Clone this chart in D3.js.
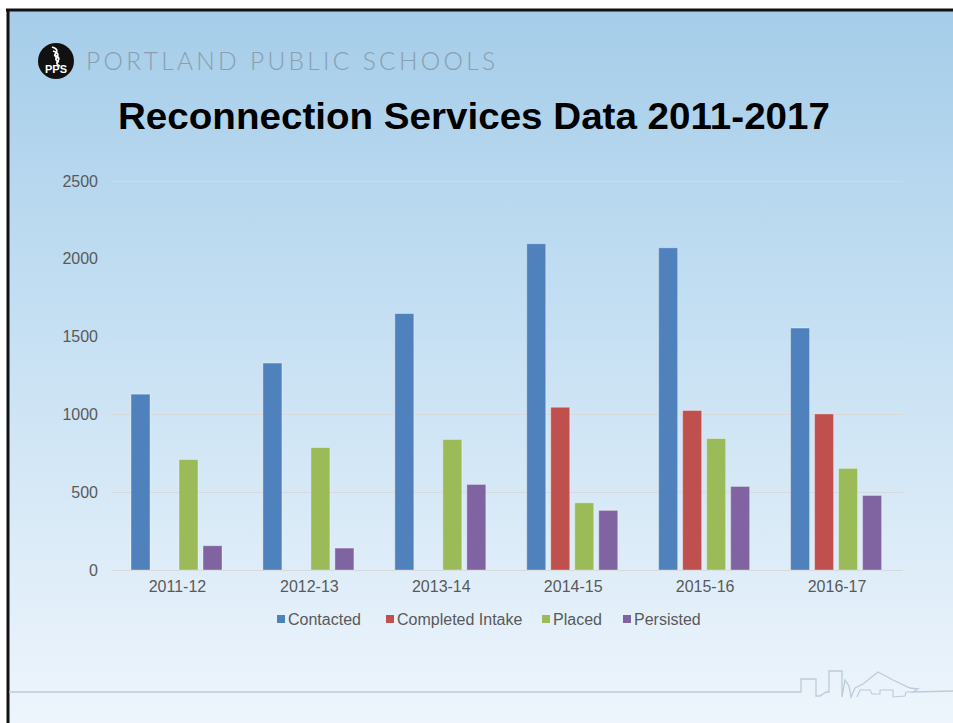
<!DOCTYPE html>
<html>
<head>
<meta charset="utf-8">
<script src="https://cdn.jsdelivr.net/npm/d3@7"></script>
<style>
  html, body { margin: 0; padding: 0; background: #fff; }
  svg { display: block; }
</style>
</head>
<body>
<svg id="chart" width="953" height="723"></svg>
<script>
// ---- data ----
const categories = ["2011-12", "2012-13", "2013-14", "2014-15", "2015-16", "2016-17"];
const seriesNames = ["Contacted", "Completed Intake", "Placed", "Persisted"];
const contacted       = [1130, 1330, 1648, 2097, 2071, 1555];
const completedIntake = [null, null, null, 1046, 1025, 1003];
const placed          = [710, 787, 839, 432, 845, 653];
const persisted       = [156, 141, 550, 383, 537, 479];
const yTicks = [0, 500, 1000, 1500, 2000, 2500];
const seriesColors = ["#4f81bd", "#c0504d", "#9bbb59", "#8064a2"];
const titleText = "Reconnection Services Data 2011-2017";
const brandText = "PORTLAND PUBLIC SCHOOLS";

const seriesValues = [contacted, completedIntake, placed, persisted];

const svg = d3.select("#chart");
const W = 953, H = 723;
const FONT = "Liberation Sans, Arial, sans-serif";

// ---- background ----
const defs = svg.append("defs");
const grad = defs.append("linearGradient").attr("id", "bg").attr("x1", 0).attr("y1", 0).attr("x2", 0).attr("y2", 1);
grad.append("stop").attr("offset", "0%").attr("stop-color", "#a5cde9");
grad.append("stop").attr("offset", "45%").attr("stop-color", "#c6e0f3");
grad.append("stop").attr("offset", "100%").attr("stop-color", "#eef5fc");
svg.append("rect").attr("x", 9).attr("y", 11).attr("width", W - 9).attr("height", H - 11).attr("fill", "url(#bg)");
// frame
svg.append("line").attr("x1", 6).attr("x2", W).attr("y1", 10).attr("y2", 10).attr("stroke", "#111").attr("stroke-width", 3);
svg.append("line").attr("x1", 8).attr("x2", 8).attr("y1", 9).attr("y2", H).attr("stroke", "#111").attr("stroke-width", 3);

// ---- logo ----
const logo = svg.append("g").attr("transform", "translate(56,61)");
logo.append("circle").attr("r", 18).attr("fill", "#111");
[-8, -4, 0].forEach((dy, i) => {
  logo.append("path")
    .attr("d", `M${-4 + i},${dy - 6} q7,2 4,6 q-3,3 2,5`)
    .attr("fill", "none").attr("stroke", "#fff").attr("stroke-width", 1.8);
});
logo.append("text").attr("x", 0).attr("y", 12).attr("text-anchor", "middle")
  .attr("font-family", FONT).attr("font-weight", "bold")
  .attr("font-size", 11).attr("fill", "#fff").text("PPS");

// brand text
svg.append("text").attr("x", 86).attr("y", 69.5)
  .attr("font-family", "Lato, 'Open Sans', sans-serif").attr("font-weight", 300)
  .attr("font-size", 24.5).attr("fill", "#8a9eae")
  .attr("textLength", 409).attr("lengthAdjust", "spacing")
  .text(brandText);

// title
svg.append("text").attr("x", 474).attr("y", 128.5).attr("text-anchor", "middle")
  .attr("font-family", FONT).attr("font-weight", "bold")
  .attr("font-size", 36).attr("fill", "#000")
  .attr("textLength", 712).attr("lengthAdjust", "spacingAndGlyphs")
  .text(titleText);

// ---- chart ----
const plotLeft = 111.5, plotRight = 903, plotTop = 181, plotBottom = 570;
const y = d3.scaleLinear().domain([0, 2500]).range([plotBottom, plotTop]);
const x0 = d3.scaleBand().domain(categories).range([plotLeft, plotRight]).paddingInner(0).paddingOuter(0);
const groupOffset = 19.5;
const x1 = d3.scaleBand().domain(seriesNames).range([groupOffset, groupOffset + 91]).paddingInner(5 / 24).paddingOuter(0);
const color = d3.scaleOrdinal().domain(seriesNames).range(seriesColors);

// gridlines
svg.append("g").selectAll("line").data(yTicks).join("line")
  .attr("x1", plotLeft).attr("x2", plotRight)
  .attr("y1", d => Math.round(y(d)) + 0.5).attr("y2", d => Math.round(y(d)) + 0.5)
  .attr("stroke", "#d5d9dc").attr("stroke-width", 1.2);

// y axis labels
const yAxis = d3.axisLeft(y).tickValues(yTicks).tickSize(0).tickPadding(0).tickFormat(d3.format("d"));
const yg = svg.append("g").attr("transform", `translate(98,0)`).call(yAxis);
yg.select(".domain").remove();
yg.selectAll("text").attr("font-family", FONT).attr("font-size", 16).attr("fill", "#595959");

// x axis labels
const xAxis = d3.axisBottom(x0).tickSize(0).tickPadding(0);
const xg = svg.append("g").attr("transform", `translate(0,${plotBottom + 11})`).call(xAxis);
xg.select(".domain").remove();
xg.selectAll("text").attr("font-family", FONT).attr("font-size", 16).attr("fill", "#595959");

// bars
const barData = [];
categories.forEach((c, i) => {
  seriesNames.forEach((s, j) => {
    const v = seriesValues[j][i];
    if (v != null) barData.push({ cat: c, series: s, value: v });
  });
});
svg.append("g").selectAll("rect").data(barData).join("rect")
  .attr("x", d => x0(d.cat) + x1(d.series))
  .attr("width", x1.bandwidth())
  .attr("y", d => y(d.value))
  .attr("height", d => y(0) - y(d.value))
  .attr("fill", d => color(d.series))
  .attr("stroke", "rgba(255,255,255,0.35)").attr("stroke-width", 1);

// legend
const legendX = [277, 386, 542, 623];
const lg = svg.append("g");
seriesNames.forEach((s, j) => {
  const g = lg.append("g").attr("transform", `translate(${legendX[j]},619)`);
  g.append("rect").attr("x", 0).attr("y", -4).attr("width", 8).attr("height", 8).attr("fill", color(s));
  g.append("text").attr("x", 11).attr("y", 6).attr("font-family", FONT)
    .attr("font-size", 16).attr("fill", "#595959").text(s);
});

// bottom decoration line + skyline
svg.append("path")
  .attr("d", "M9,692 L801,692 L801,679 L816,679 L816,696 L820,696 L826,692 L829,692 L829,671 L842,671 L842,697 L845,680 L849,686 L851,697 L855,688 L863,684 L878,672 L893,680 L910,688 L918,689 L913,692 L953,691")
  .attr("fill", "none").attr("stroke", "#bccbd6").attr("stroke-width", 1.3);
svg.append("path")
  .attr("d", "M857,697 L860,690 L870,690 L872,694 L880,694 L880,690 L893,690 L893,697 L905,696 L906,692 L913,692")
  .attr("fill", "none").attr("stroke", "#bccbd6").attr("stroke-width", 1.1);
</script>
</body>
</html>
